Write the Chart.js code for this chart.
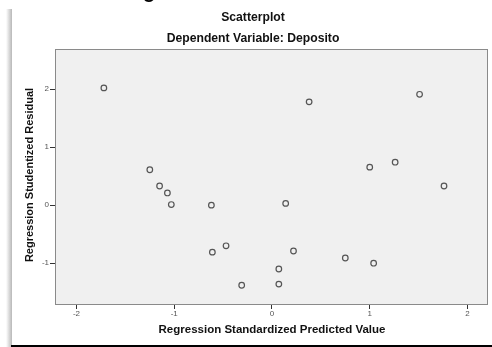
<!DOCTYPE html>
<html lang="en">
  <head>
    <meta charset="UTF-8" />
    <title>Scatterplot</title>
    <script src="https://cdn.jsdelivr.net/npm/chart.js"></script>
    <style>
      body {
        margin: 0;
        background-color: #ffffff;
      }
      #wrap {
        width: 492px;
        height: 347px;
      }
    </style>
  </head>
  <body>
    <div id="wrap">
      <canvas id="myChart" width="492" height="347"></canvas>
    </div>
    <script>
      // values
      const predicted = [
        -1.72, -1.25, -1.15, -1.07, -1.03, -0.62, -0.47, -0.61, -0.31, 0.07,
        0.07, 0.14, 0.22, 0.38, 0.75, 1.0, 1.04, 1.26, 1.51, 1.76,
      ];
      const residual = [
        2.02, 0.61, 0.33, 0.21, 0.01, 0.0, -0.7, -0.81, -1.38, -1.1, -1.36,
        0.03, -0.79, 1.78, -0.91, 0.655, -1.0, 0.74, 1.91, 0.33,
      ];
      const xTicks = [-2, -1, 0, 1, 2];
      const yTicks = [-1, 0, 1, 2];

      const points = predicted.map((x, i) => ({ x: x, y: residual[i] }));
      const fam = "'Liberation Sans', Arial, sans-serif";

      const spssFrame = {
        id: "spssFrame",
        beforeDraw(chart) {
          const { ctx, chartArea } = chart;
          ctx.save();
          // page edges around the chart picture
          const grad = ctx.createLinearGradient(6, 0, 12, 0);
          grad.addColorStop(0, "#ffffff");
          grad.addColorStop(1, "#b8b8b8");
          ctx.fillStyle = grad;
          ctx.fillRect(6, 9, 6, 338);
          ctx.fillStyle = "#000000";
          ctx.fillRect(11, 345, 481, 2);
          ctx.font = "bold 20px " + fam;
          ctx.fillText("g", 143, -2);
          // plot background
          ctx.fillStyle = "#f0f0f0";
          ctx.fillRect(
            chartArea.left,
            chartArea.top,
            chartArea.right - chartArea.left,
            chartArea.bottom - chartArea.top
          );
          ctx.restore();
        },
        afterDraw(chart) {
          const { ctx, chartArea } = chart;
          ctx.save();
          ctx.strokeStyle = "#8a8a8a";
          ctx.lineWidth = 1;
          ctx.strokeRect(
            chartArea.left + 0.5,
            chartArea.top + 0.5,
            chartArea.right - chartArea.left - 1,
            chartArea.bottom - chartArea.top - 1
          );
          ctx.fillStyle = "#111111";
          ctx.textAlign = "center";
          ctx.textBaseline = "middle";
          ctx.font = "bold 12.2px " + fam;
          ctx.fillText("Scatterplot", 253, 18);
          ctx.fillText("Dependent Variable: Deposito", 253, 39);
          ctx.font = "bold 11.5px " + fam;
          ctx.fillText("Regression Standardized Predicted Value", 272, 330);
          ctx.font = "bold 11px " + fam;
          ctx.translate(30, 175);
          ctx.rotate(-Math.PI / 2);
          ctx.fillText("Regression Studentized Residual", 0, 0);
          ctx.restore();
        },
      };

      const ctx = document.getElementById("myChart");

      const myChart = new Chart(ctx, {
        type: "scatter",
        data: {
          datasets: [
            {
              label: "Residual",
              data: points,
              pointRadius: 2.8,
              pointHoverRadius: 2.8,
              borderWidth: 1.2,
              borderColor: "#555555",
              backgroundColor: "rgba(0,0,0,0)",
            },
          ],
        },
        options: {
          responsive: false,
          animation: false,
          layout: {
            padding: { left: 0, top: 49, right: 3, bottom: 0 },
          },
          scales: {
            x: {
              type: "linear",
              min: -2.22,
              max: 2.21,
              afterFit: (scale) => {
                scale.height = 42;
              },
              afterBuildTicks: (scale) => {
                scale.ticks = xTicks.map((v) => ({ value: v }));
              },
              border: { display: false },
              grid: {
                drawOnChartArea: false,
                tickLength: 4,
                tickColor: "#333333",
              },
              ticks: {
                padding: 0,
                color: "#555555",
                font: { size: 8, family: "'Liberation Sans', Arial" },
              },
            },
            y: {
              type: "linear",
              min: -1.72,
              max: 2.69,
              afterFit: (scale) => {
                scale.width = 55;
              },
              afterBuildTicks: (scale) => {
                scale.ticks = yTicks.map((v) => ({ value: v }));
              },
              border: { display: false },
              grid: {
                drawOnChartArea: false,
                tickLength: 5,
                tickColor: "#333333",
              },
              ticks: {
                padding: 1,
                color: "#555555",
                font: { size: 8, family: "'Liberation Sans', Arial" },
              },
            },
          },
          plugins: {
            legend: { display: false },
            tooltip: { enabled: false },
          },
        },
        plugins: [spssFrame],
      });
    </script>
  </body>
</html>
